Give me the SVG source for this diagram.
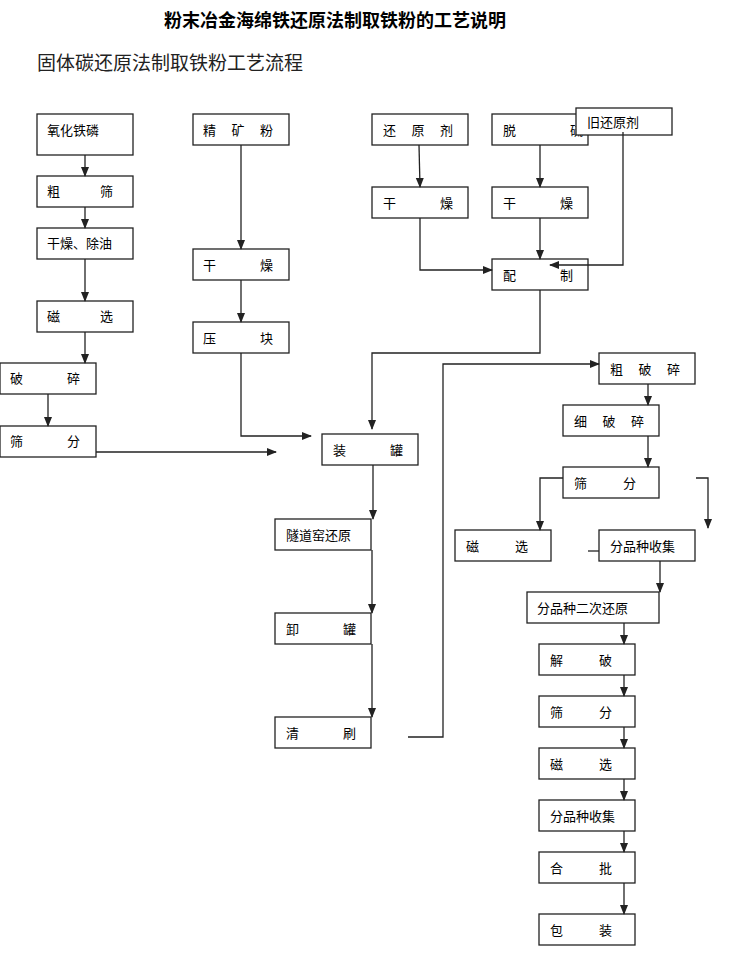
<svg xmlns="http://www.w3.org/2000/svg" width="733" height="978" viewBox="0 0 733 978">
<style>
.b{fill:#fff;stroke:#222;stroke-width:1.3}
.t{font-family:"Noto Sans CJK SC",sans-serif;font-size:13px;fill:#000}
.c{fill:none;stroke:#222;stroke-width:1.3}
</style>
<defs><marker id="a" markerWidth="10" markerHeight="10" refX="9" refY="5" orient="auto" markerUnits="userSpaceOnUse"><path d="M0,1 L10,5 L0,9 Z" fill="#222"/></marker></defs>
<rect width="733" height="978" fill="#fff"/>
<text x="335" y="27" text-anchor="middle" style="font-family:'Noto Sans CJK SC',serif;font-size:18px;font-weight:bold">粉末冶金海绵铁还原法制取铁粉的工艺说明</text>
<text x="37" y="70" style="font-family:'Noto Sans CJK SC',serif;font-size:19px;fill:#222">固体碳还原法制取铁粉工艺流程</text>
<g id="n1"><rect class="b" x="37" y="114" width="96" height="41"/><text class="t" x="47" y="135">氧化铁磷</text></g>
<g id="n2"><rect class="b" x="37" y="176" width="96" height="31"/><text class="t" x="47" y="196" textLength="66" lengthAdjust="spacing">粗筛</text></g>
<g id="n3"><rect class="b" x="37" y="228" width="96" height="31"/><text class="t" x="47" y="248">干燥、除油</text></g>
<g id="n4"><rect class="b" x="37" y="301" width="96" height="31"/><text class="t" x="47" y="321" textLength="66" lengthAdjust="spacing">磁选</text></g>
<g id="n5"><rect class="b" x="0" y="363" width="96" height="31"/><text class="t" x="10" y="383" textLength="70" lengthAdjust="spacing">破碎</text></g>
<g id="n6"><rect class="b" x="0" y="426" width="96" height="31"/><text class="t" x="10" y="446" textLength="70" lengthAdjust="spacing">筛分</text></g>
<g id="n7"><rect class="b" x="193" y="114" width="96" height="31"/><text class="t" x="203" y="135" textLength="70" lengthAdjust="spacing">精矿粉</text></g>
<g id="n8"><rect class="b" x="193" y="249" width="96" height="31"/><text class="t" x="203" y="270" textLength="70" lengthAdjust="spacing">干燥</text></g>
<g id="n9"><rect class="b" x="193" y="322" width="96" height="31"/><text class="t" x="203" y="343" textLength="70" lengthAdjust="spacing">压块</text></g>
<g id="n10"><rect class="b" x="372" y="114" width="96" height="31"/><text class="t" x="383" y="135" textLength="70" lengthAdjust="spacing">还原剂</text></g>
<g id="n11"><rect class="b" x="492" y="114" width="96" height="31"/><text class="t" x="503" y="135" textLength="80" lengthAdjust="spacing">脱硫</text></g>
<g id="n12"><rect class="b" x="576" y="108" width="96" height="27"/><text class="t" x="587" y="127">旧还原剂</text></g>
<g id="n13"><rect class="b" x="372" y="187" width="96" height="31"/><text class="t" x="383" y="208" textLength="70" lengthAdjust="spacing">干燥</text></g>
<g id="n14"><rect class="b" x="492" y="187" width="96" height="31"/><text class="t" x="503" y="208" textLength="70" lengthAdjust="spacing">干燥</text></g>
<g id="n15"><rect class="b" x="492" y="259" width="96" height="31"/><text class="t" x="503" y="280" textLength="70" lengthAdjust="spacing">配制</text></g>
<g id="n16"><rect class="b" x="322" y="434" width="96" height="31"/><text class="t" x="333" y="455" textLength="70" lengthAdjust="spacing">装罐</text></g>
<g id="n17"><rect class="b" x="275" y="519" width="96" height="31"/><text class="t" x="286" y="540">隧道窑还原</text></g>
<g id="n18"><rect class="b" x="275" y="613" width="96" height="31"/><text class="t" x="286" y="634" textLength="70" lengthAdjust="spacing">卸罐</text></g>
<g id="n19"><rect class="b" x="275" y="717" width="96" height="31"/><text class="t" x="286" y="738" textLength="70" lengthAdjust="spacing">清刷</text></g>
<g id="n20"><rect class="b" x="599" y="353" width="96" height="31"/><text class="t" x="610" y="374" textLength="70" lengthAdjust="spacing">粗破碎</text></g>
<g id="n21"><rect class="b" x="563" y="405" width="96" height="31"/><text class="t" x="574" y="426" textLength="70" lengthAdjust="spacing">细破碎</text></g>
<g id="n22"><rect class="b" x="563" y="467" width="96" height="31"/><text class="t" x="574" y="488" textLength="62" lengthAdjust="spacing">筛分</text></g>
<g id="n23"><rect class="b" x="455" y="530" width="96" height="31"/><text class="t" x="466" y="551" textLength="62" lengthAdjust="spacing">磁选</text></g>
<g id="n24"><rect class="b" x="599" y="530" width="96" height="31"/><text class="t" x="610" y="551">分品种收集</text></g>
<g id="n25"><rect class="b" x="527" y="592" width="132" height="31"/><text class="t" x="537" y="613">分品种二次还原</text></g>
<g id="n26"><rect class="b" x="539" y="644" width="96" height="31"/><text class="t" x="550" y="665" textLength="62" lengthAdjust="spacing">解破</text></g>
<g id="n27"><rect class="b" x="539" y="696" width="96" height="31"/><text class="t" x="550" y="717" textLength="62" lengthAdjust="spacing">筛分</text></g>
<g id="n28"><rect class="b" x="539" y="748" width="96" height="31"/><text class="t" x="550" y="769" textLength="62" lengthAdjust="spacing">磁选</text></g>
<g id="n29"><rect class="b" x="539" y="800" width="96" height="31"/><text class="t" x="550" y="821">分品种收集</text></g>
<g id="n30"><rect class="b" x="539" y="852" width="96" height="31"/><text class="t" x="550" y="873" textLength="62" lengthAdjust="spacing">合批</text></g>
<g id="n31"><rect class="b" x="539" y="914" width="96" height="31"/><text class="t" x="550" y="935" textLength="62" lengthAdjust="spacing">包装</text></g>
<g id="connectors">
<path class="c" marker-end="url(#a)" d="M85,155V176"/>
<path class="c" marker-end="url(#a)" d="M85,207V228"/>
<path class="c" marker-end="url(#a)" d="M85,259V301"/>
<path class="c" marker-end="url(#a)" d="M85,332V363"/>
<path class="c" marker-end="url(#a)" d="M48,394V426"/>
<path class="c" marker-end="url(#a)" d="M96,452H276"/>
<path class="c" marker-end="url(#a)" d="M241,145V249"/>
<path class="c" marker-end="url(#a)" d="M241,280V322"/>
<path class="c" marker-end="url(#a)" d="M241,353V436H311"/>
<path class="c" marker-end="url(#a)" d="M419,145L420,187"/>
<path class="c" marker-end="url(#a)" d="M420,218V270H492"/>
<path class="c" marker-end="url(#a)" d="M540,145V187"/>
<path class="c" marker-end="url(#a)" d="M540,218V259"/>
<path class="c" marker-end="url(#a)" d="M623,132V265H550"/>
<path class="c" marker-end="url(#a)" d="M540,290V353H372V429"/>
<path class="c" marker-end="url(#a)" d="M373,465V519"/>
<path class="c" marker-end="url(#a)" d="M372,550V613"/>
<path class="c" marker-end="url(#a)" d="M372,644V717"/>
<path class="c" marker-end="url(#a)" d="M408,737H443V364H599"/>
<path class="c" marker-end="url(#a)" d="M648,384V405"/>
<path class="c" marker-end="url(#a)" d="M648,436V467"/>
<path class="c" marker-end="url(#a)" d="M563,478H540V530"/>
<path class="c" marker-end="url(#a)" d="M696,478H708V528"/>
<path class="c" d="M588,551H599"/>
<path class="c" marker-end="url(#a)" d="M660,561V592"/>
<path class="c" marker-end="url(#a)" d="M624,623V644"/>
<path class="c" marker-end="url(#a)" d="M624,675V696"/>
<path class="c" marker-end="url(#a)" d="M624,727V748"/>
<path class="c" marker-end="url(#a)" d="M624,779V800"/>
<path class="c" marker-end="url(#a)" d="M624,831V852"/>
<path class="c" marker-end="url(#a)" d="M624,883V914"/>
</g>
</svg>
